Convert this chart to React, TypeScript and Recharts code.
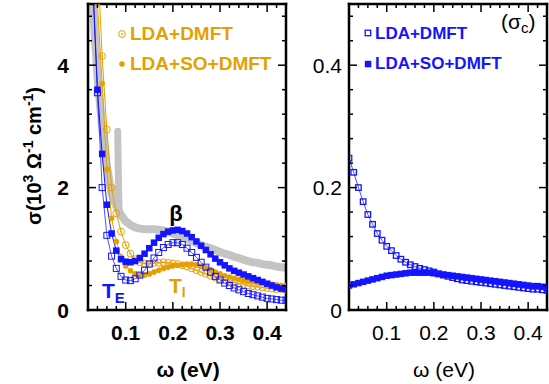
import React from 'react';
import { LineChart, Line, XAxis, YAxis } from 'recharts';

// photon energy grid (eV), in-plane panel
const OMEGA = [
  0.03, 0.04, 0.05, 0.06, 0.07, 0.08, 0.09, 0.1, 0.11, 0.12, 0.13, 0.14, 0.15, 0.16,
  0.17, 0.18, 0.19, 0.2, 0.21, 0.22, 0.23, 0.24, 0.25, 0.26, 0.27, 0.28, 0.29, 0.3,
  0.31, 0.32, 0.33, 0.34, 0.35, 0.36, 0.37, 0.38, 0.39, 0.4, 0.41, 0.42, 0.43, 0.44,
];
// T_E, LDA+DMFT (open squares)
const TE_LDA = [
  5.5, 3.55, 2.0, 1.22, 0.88, 0.68, 0.55, 0.49, 0.48, 0.51, 0.57, 0.65, 0.75, 0.85,
  0.94, 1.02, 1.07, 1.1, 1.1, 1.07, 1.01, 0.94, 0.86, 0.78, 0.7, 0.62, 0.55, 0.49,
  0.44, 0.4, 0.36, 0.33, 0.3, 0.27, 0.25, 0.23, 0.21, 0.19, 0.18, 0.17, 0.16, 0.16,
];
// T_E, LDA+SO+DMFT (filled squares)
const TE_SO = [
  5.3, 3.6, 2.55, 1.72, 1.25, 0.97, 0.83, 0.79, 0.78, 0.8, 0.85, 0.92, 1.01, 1.1,
  1.18, 1.24, 1.28, 1.3, 1.31, 1.29, 1.25, 1.19, 1.12, 1.05, 0.98, 0.91, 0.84, 0.78,
  0.73, 0.68, 0.64, 0.61, 0.58, 0.55, 0.52, 0.49, 0.46, 0.43, 0.4, 0.37, 0.35, 0.34,
];
// T_I, LDA+DMFT (open circles)
const TI_LDA = [
  8.0, 5.8, 4.15, 2.95, 2.0, 1.58, 1.28, 1.06, 0.92, 0.83, 0.78, 0.76, 0.76, 0.77,
  0.77, 0.78, 0.77, 0.76, 0.75, 0.73, 0.71, 0.68, 0.65, 0.62, 0.59, 0.56, 0.53, 0.51,
  0.49, 0.47, 0.45, 0.43, 0.42, 0.4, 0.39, 0.38, 0.37, 0.36, 0.35, 0.34, 0.34, 0.33,
];
// T_I, LDA+SO+DMFT (filled circles)
const TI_SO = [
  7.0, 5.0, 3.7, 2.3, 1.5, 1.12, 0.87, 0.72, 0.64, 0.59, 0.57, 0.57, 0.59, 0.62,
  0.65, 0.68, 0.7, 0.72, 0.73, 0.74, 0.75, 0.75, 0.74, 0.72, 0.69, 0.66, 0.62, 0.59,
  0.56, 0.54, 0.52, 0.5, 0.48, 0.47, 0.46, 0.45, 0.44, 0.43, 0.42, 0.41, 0.4, 0.4,
];
// experiment (gray band)
const EXP_W = [
  0.025, 0.03, 0.035, 0.04, 0.045, 0.05, 0.06, 0.07, 0.08, 0.09, 0.1, 0.11, 0.12, 0.13,
  0.14, 0.15, 0.16, 0.17, 0.18, 0.19, 0.2, 0.21, 0.22, 0.23, 0.24, 0.25, 0.26, 0.27,
  0.28, 0.29, 0.3, 0.31, 0.32, 0.33, 0.34, 0.35, 0.36, 0.37, 0.38, 0.39, 0.4, 0.41,
  0.42, 0.43, 0.44,
];
const EXP_S = [
  6.0, 5.1, 4.4, 3.85, 3.4, 3.0, 2.35, 1.9, 1.7, 1.55, 1.45, 1.39, 1.35, 1.33,
  1.32, 1.32, 1.32, 1.31, 1.3, 1.28, 1.25, 1.22, 1.19, 1.16, 1.13, 1.09, 1.06, 1.03,
  1.01, 0.98, 0.95, 0.92, 0.9, 0.87, 0.85, 0.82, 0.8, 0.78, 0.77, 0.75, 0.74, 0.73,
  0.71, 0.7, 0.69,
];
const EXP2_W = [0.083, 0.084, 0.085, 0.086];
const EXP2_S = [2.92, 2.4, 1.9, 1.62];

// c-axis panel
const OMEGA_C = [
  0.02, 0.03, 0.04, 0.05, 0.06, 0.07, 0.08, 0.09, 0.1, 0.11, 0.12, 0.13, 0.14, 0.15,
  0.16, 0.17, 0.18, 0.19, 0.2, 0.21, 0.22, 0.23, 0.24, 0.25, 0.26, 0.27, 0.28, 0.29,
  0.3, 0.31, 0.32, 0.33, 0.34, 0.35, 0.36, 0.37, 0.38, 0.39, 0.4, 0.41, 0.42, 0.43, 0.44,
];
const C_LDA = [
  0.248, 0.225, 0.2, 0.177, 0.156, 0.14, 0.125, 0.114, 0.104, 0.097, 0.089, 0.083, 0.078, 0.074,
  0.071, 0.068, 0.066, 0.064, 0.062, 0.059, 0.057, 0.055, 0.053, 0.051, 0.049, 0.048, 0.047, 0.046,
  0.045, 0.044, 0.043, 0.042, 0.041, 0.04, 0.039, 0.038, 0.037, 0.036, 0.035, 0.034, 0.034, 0.033, 0.032,
];
const C_SO = [
  0.04, 0.042, 0.044, 0.046, 0.048, 0.05, 0.052, 0.054, 0.056, 0.057, 0.058, 0.059, 0.06, 0.061,
  0.061, 0.061, 0.061, 0.061, 0.06, 0.059, 0.058, 0.057, 0.056, 0.055, 0.054, 0.053, 0.052, 0.051,
  0.05, 0.049, 0.048, 0.047, 0.046, 0.045, 0.044, 0.043, 0.042, 0.041, 0.04, 0.039, 0.039, 0.038, 0.037,
];

const X_TICKS = [
  0.04, 0.06, 0.08, 0.1, 0.12, 0.14, 0.16, 0.18, 0.2, 0.22, 0.24, 0.26, 0.28, 0.3,
  0.32, 0.34, 0.36, 0.38, 0.4, 0.42,
];
const X_MAJOR = [0.1, 0.2, 0.3, 0.4];
const LEFT_Y_TICKS = [0, 0.4, 0.8, 1.2, 1.6, 2, 2.4, 2.8, 3.2, 3.6, 4, 4.4, 4.8];
const LEFT_Y_MAJOR = [0, 2, 4];
const RIGHT_Y_TICKS = [0, 0.04, 0.08, 0.12, 0.16, 0.2, 0.24, 0.28, 0.32, 0.36, 0.4, 0.44, 0.48];
const RIGHT_Y_MAJOR = [0, 0.2, 0.4];

const leftRows = OMEGA.map((w, i) => ({ w, teLda: TE_LDA[i], teSo: TE_SO[i], tiLda: TI_LDA[i], tiSo: TI_SO[i] }));
const expRows = EXP_W.map((w, i) => ({ w, s: EXP_S[i] }));
const exp2Rows = EXP2_W.map((w, i) => ({ w, s: EXP2_S[i] }));
const rightRows = OMEGA_C.map((w, i) => ({ w, lda: C_LDA[i], so: C_SO[i] }));

const FONT = '"Liberation Sans", Arial, Helvetica, sans-serif';
const BLUE = '#1414ff';
const ORANGE = '#e69f00';
const GRAY = '#c4c4c4';

const AXIS_LINE: any = { stroke: '#000', strokeWidth: 2.5, strokeLinecap: 'square' };

const near = (list: number[], v: number) => list.some((m) => Math.abs(m - v) < 1e-6);

type Side = 'top' | 'bottom' | 'left' | 'right';
interface TickLabel {
  size: number;
  weight: string;
  gap: number;
}

const makeTick = (side: Side, majors: number[], label?: TickLabel) => (props: any) => {
  const { x, y, payload, index } = props;
  const v = payload.value;
  const major = near(majors, v);
  const len = major ? 8 : 4;
  let x2 = x;
  let y2 = y;
  if (side === 'bottom') y2 = y - len;
  if (side === 'top') y2 = y + len;
  if (side === 'left') x2 = x + len;
  if (side === 'right') x2 = x - len;
  let txt = null;
  if (label && major) {
    const common = { fontFamily: FONT, fontSize: label.size, fontWeight: label.weight, fill: '#000' };
    if (side === 'bottom') {
      txt = <text x={x} y={y + label.gap} textAnchor="middle" {...common}>{String(v)}</text>;
    } else if (side === 'left') {
      txt = <text x={x - label.gap} y={y + 7.5} textAnchor="end" {...common}>{String(v)}</text>;
    }
  }
  return (
    <g key={`${side}-${index}`}>
      <line x1={x} y1={y} x2={x2} y2={y2} stroke="#000" strokeWidth={1.5} />
      {txt}
    </g>
  );
};

const bad = (p: any) => p.cx == null || p.cy == null || isNaN(p.cx) || isNaN(p.cy);

const openSquare = (color: string, s: number, sw: number) => (p: any) =>
  bad(p) ? <g key={p.index} /> : (
    <rect key={p.index} x={p.cx - s / 2} y={p.cy - s / 2} width={s} height={s} fill="none" stroke={color} strokeWidth={sw} />
  );
const filledSquare = (color: string, s: number) => (p: any) =>
  bad(p) ? <g key={p.index} /> : (
    <rect key={p.index} x={p.cx - s / 2} y={p.cy - s / 2} width={s} height={s} fill={color} />
  );
const openCircle = (color: string, r: number) => (p: any) =>
  bad(p) ? <g key={p.index} /> : (
    <g key={p.index}>
      <circle cx={p.cx} cy={p.cy} r={r} fill="none" stroke={color} strokeWidth={1} />
      <circle cx={p.cx} cy={p.cy} r={0.9} fill={color} />
    </g>
  );
const filledCircle = (color: string, r: number) => (p: any) =>
  bad(p) ? <g key={p.index} /> : <circle key={p.index} cx={p.cx} cy={p.cy} r={r} fill={color} />;

// axes drawn as a closed frame with inward ticks (gnuplot look)
const Frame = ({ yDomain, yTicks, yMajor, boldLabels, yGap }: any) => {
  const lab = (gap: number): TickLabel => ({ size: 21, weight: boldLabels ? 'bold' : 'normal', gap });
  return [
    <XAxis key="xb" type="number" dataKey="w" domain={[0.02, 0.44]} allowDataOverflow ticks={X_TICKS} interval={0}
      height={1} tickSize={0} tickMargin={0} axisLine={AXIS_LINE} tickLine={false}
      tick={makeTick('bottom', X_MAJOR, lab(30))} />,
    <XAxis key="xt" xAxisId="top" orientation="top" type="number" dataKey="w" domain={[0.02, 0.44]} allowDataOverflow
      ticks={X_TICKS} interval={0} height={1} tickSize={0} tickMargin={0} axisLine={AXIS_LINE} tickLine={false}
      tick={makeTick('top', X_MAJOR)} />,
    <YAxis key="yl" type="number" domain={yDomain} allowDataOverflow ticks={yTicks} interval={0} width={1}
      tickSize={0} tickMargin={0} axisLine={AXIS_LINE} tickLine={false} tick={makeTick('left', yMajor, lab(yGap))} />,
    <YAxis key="yr" yAxisId="right" orientation="right" type="number" domain={yDomain} allowDataOverflow ticks={yTicks}
      interval={0} width={1} tickSize={0} tickMargin={0} axisLine={AXIS_LINE} tickLine={false}
      tick={makeTick('right', yMajor)} />,
  ];
};

const InPlane = () => (
  <LineChart width={300} height={384} data={leftRows} margin={{ top: 3, right: 13, bottom: 73, left: 87 }}>
    {Frame({ yDomain: [0, 5], yTicks: LEFT_Y_TICKS, yMajor: LEFT_Y_MAJOR, boldLabels: true, yGap: 19 })}
    <Line data={expRows} dataKey="s" stroke={GRAY} strokeWidth={8} strokeLinejoin="round" strokeLinecap="round"
      dot={false} activeDot={false} isAnimationActive={false} />
    <Line data={exp2Rows} dataKey="s" stroke={GRAY} strokeWidth={7} strokeLinecap="round"
      dot={false} activeDot={false} isAnimationActive={false} />
    <Line dataKey="tiSo" stroke={ORANGE} strokeWidth={1} dot={filledCircle(ORANGE, 2.8)} activeDot={false} isAnimationActive={false} />
    <Line dataKey="tiLda" stroke={ORANGE} strokeWidth={1} dot={openCircle(ORANGE, 3.4)} activeDot={false} isAnimationActive={false} />
    <Line dataKey="teLda" stroke={BLUE} strokeOpacity={0.75} strokeWidth={1} dot={openSquare(BLUE, 6, 1)} activeDot={false} isAnimationActive={false} />
    <Line dataKey="teSo" stroke={BLUE} strokeWidth={1} dot={filledSquare(BLUE, 6.5)} activeDot={false} isAnimationActive={false} />
  </LineChart>
);

const CAxis = () => (
  <LineChart width={249} height={384} data={rightRows} margin={{ top: 3, right: 1, bottom: 73, left: 48 }}>
    {Frame({ yDomain: [0, 0.5], yTicks: RIGHT_Y_TICKS, yMajor: RIGHT_Y_MAJOR, boldLabels: false, yGap: 7 })}
    <Line dataKey="so" stroke={BLUE} strokeWidth={1} dot={filledSquare(BLUE, 6.5)} activeDot={false} isAnimationActive={false} />
    <Line dataKey="lda" stroke={BLUE} strokeOpacity={0.75} strokeWidth={1} dot={openSquare(BLUE, 5.5, 1.3)} activeDot={false} isAnimationActive={false} />
  </LineChart>
);

const Overlay = () => (
  <svg width={549} height={384} style={{ position: 'absolute', left: 0, top: 0, pointerEvents: 'none' }} fontFamily={FONT}>
    <text transform="translate(41,156) rotate(-90)" textAnchor="middle" fontSize={20} fontWeight="bold">
      σ(10<tspan fontSize={14} dy={-8}>3</tspan>
      <tspan dy={8}> Ω</tspan><tspan fontSize={14} dy={-8}>-1</tspan>
      <tspan dy={8}> cm</tspan><tspan fontSize={14} dy={-8}>-1</tspan>
      <tspan dy={8}>)</tspan>
    </text>
    <text x={188} y={377} textAnchor="middle" fontSize={21} fontWeight="bold">ω (eV)</text>
    <text x={444} y={377} textAnchor="middle" fontSize={21}>ω (eV)</text>

    <circle cx={122} cy={34} r={3.4} fill="none" stroke={ORANGE} strokeWidth={1} />
    <circle cx={122} cy={34} r={0.9} fill={ORANGE} />
    <circle cx={122} cy={64} r={2.8} fill={ORANGE} />
    <text x={130} y={40} fontSize={19} fontWeight="bold" fill={ORANGE}>LDA+DMFT</text>
    <text x={130} y={70} fontSize={19} fontWeight="bold" fill={ORANGE}>LDA+SO+DMFT</text>

    <rect x={365.2} y={30.2} width={5.5} height={5.5} fill="none" stroke={BLUE} strokeWidth={1.3} />
    <rect x={364.8} y={60.8} width={6.5} height={6.5} fill={BLUE} />
    <text x={375} y={39} fontSize={17} fontWeight="bold" fill={BLUE}>LDA+DMFT</text>
    <text x={375} y={69} fontSize={17} fontWeight="bold" fill={BLUE}>LDA+SO+DMFT</text>

    <text x={501} y={29} fontSize={21}>(σ<tspan fontSize={15} dy={4}>c</tspan><tspan dy={-4}>)</tspan></text>

    <text x={176} y={221} textAnchor="middle" fontSize={22} fontWeight="bold" fill="#000">β</text>
    <text x={102} y={298} fontSize={21} fontWeight="bold" fill={BLUE}>T<tspan fontSize={15} dy={5}>E</tspan></text>
    <text x={169} y={293} fontSize={21} fontWeight="bold" fill={ORANGE}>T<tspan fontSize={14} dy={4}>I</tspan></text>
  </svg>
);

export default function App() {
  return (
    <div style={{ position: 'absolute', left: 0, top: 0, width: 549, height: 384, background: '#fff', overflow: 'hidden' }}>
      <div style={{ position: 'absolute', left: 0, top: 0 }}>
        <InPlane />
      </div>
      <div style={{ position: 'absolute', left: 300, top: 0 }}>
        <CAxis />
      </div>
      <Overlay />
    </div>
  );
}
